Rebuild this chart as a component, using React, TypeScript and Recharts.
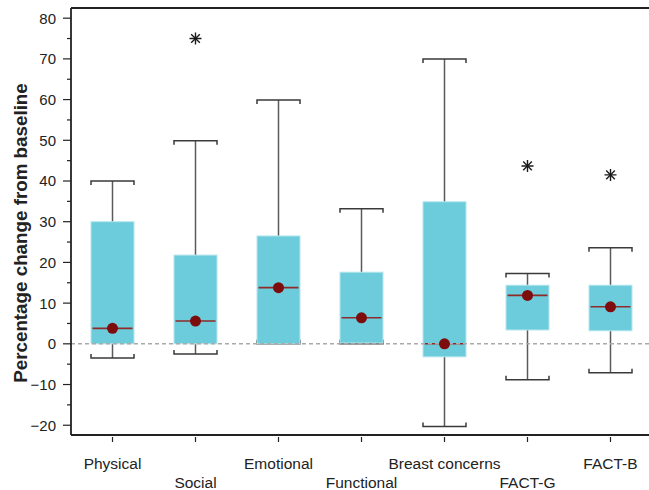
import React from "react"
import { ComposedChart, Bar, Scatter, XAxis, YAxis, ReferenceLine, Label } from "recharts"

const categories = ["Physical", "Social", "Emotional", "Functional", "Breast concerns", "FACT-G", "FACT-B"]
const whiskerLow = [-3.5, -2.5, 0, 0, -20.3, -8.8, -7.1]
const q1 = [0, 0, 0, 0.2, -3.2, 3.4, 3.2]
const median = [3.8, 5.6, 13.8, 6.4, 0, 11.9, 9.1]
const q3 = [30, 21.8, 26.5, 17.6, 34.9, 14.4, 14.4]
const whiskerHigh = [40, 49.9, 59.9, 33.2, 70, 17.3, 23.6]
const means = [3.8, 5.6, 13.8, 6.4, 0, 11.9, 9.1]
const outliers: (number | null)[] = [null, 75, null, null, null, 43.7, 41.5]

const yTicks = [-20, -15, -10, -5, 0, 5, 10, 15, 20, 25, 30, 35, 40, 45, 50, 55, 60, 65, 70, 75, 80]
const yDomain = [-22.4, 82.5]

const data = categories.map((name, i) => ({
  name,
  low: whiskerLow[i],
  q1: q1[i],
  median: median[i],
  q3: q3[i],
  high: whiskerHigh[i],
  mean: means[i],
  outlier: outliers[i],
}))

const FONT = "'Liberation Sans', Arial, sans-serif"
const BOX_FILL = "#6dccdb"

// whisker range drawn by the bar; box/median placed with the same linear scale
const BoxShape = (props: any) => {
  const { x, y, width, height, payload } = props
  const top = Math.min(y, y + height)
  const bottom = Math.max(y, y + height)
  const span = payload.high - payload.low
  const yOf = (v: number) => bottom - ((v - payload.low) / span) * (bottom - top)
  const cx = x + width / 2
  const x0 = x
  const x1 = x + width
  const yq1 = yOf(payload.q1)
  const yq3 = yOf(payload.q3)
  const ym = yOf(payload.median)
  return (
    <g>
      <line x1={cx} x2={cx} y1={top} y2={bottom} stroke="#5a5a5a" strokeWidth={1.5} />
      <path d={`M${x0},${top + 4}V${top}H${x1}V${top + 4}`} fill="none" stroke="#3a3a3a" strokeWidth={1.5} />
      <path d={`M${x0},${bottom - 4}V${bottom}H${x1}V${bottom - 4}`} fill="none" stroke="#3a3a3a" strokeWidth={1.5} />
      <rect x={x0} y={yq3} width={width} height={Math.max(yq1 - yq3, 1)} fill={BOX_FILL} stroke="#b5e6ee" strokeWidth={1} />
      <line x1={x0 + 1.5} x2={x1 - 1.5} y1={ym} y2={ym} stroke="#8e2a2a" strokeWidth={1.6} />
    </g>
  )
}

const MeanDot = (props: any) => {
  const { cx, cy } = props
  if (cx == null || cy == null || isNaN(cy)) return <g />
  return <circle cx={cx} cy={cy} r={5.5} fill="#7d0d0d" />
}

const Star = (props: any) => {
  const { cx, cy, payload } = props
  if (payload.outlier == null || cy == null || isNaN(cy)) return <g />
  const r = 6
  const d = r * 0.72
  return (
    <g stroke="#1a1a1a" strokeWidth={1.4}>
      <line x1={cx - r} x2={cx + r} y1={cy} y2={cy} />
      <line x1={cx} x2={cx} y1={cy - r} y2={cy + r} />
      <line x1={cx - d} x2={cx + d} y1={cy - d} y2={cy + d} />
      <line x1={cx - d} x2={cx + d} y1={cy + d} y2={cy - d} />
    </g>
  )
}

const YTick = (props: any) => {
  const { x, y, payload } = props
  const v = payload.value
  const major = v % 10 === 0
  return (
    <g>
      <line x1={x - (major ? 8 : 4)} x2={x} y1={y} y2={y} stroke="#222" strokeWidth={1.2} />
      {major && (
        <text x={x - 15} y={y} dy={5.5} textAnchor="end" fontSize={15} fill="#222" fontFamily={FONT}>
          {v < 0 ? `\u2212${Math.abs(v)}` : v}
        </text>
      )}
    </g>
  )
}

const XTick = (props: any) => {
  const { x, y, payload, index } = props
  return (
    <g>
      <line x1={x} x2={x} y1={y} y2={y + 5} stroke="#222" strokeWidth={1.2} />
      <text x={x} y={y} dy={index % 2 === 0 ? 32 : 50.5} textAnchor="middle" fontSize={15.5} fill="#222" fontFamily={FONT}>
        {payload.value}
      </text>
    </g>
  )
}

export default function App() {
  return (
    <div style={{ position: "absolute", left: 0, top: 0, width: 649, height: 490, overflow: "hidden", background: "#fff" }}>
      <ComposedChart width={660} height={490} data={data} margin={{ top: 8, right: 8, left: 0, bottom: 0 }}>
        <XAxis
          dataKey="name"
          height={55}
          tickLine={false}
          tickSize={0}
          tick={<XTick />}
          interval={0}
          axisLine={{ stroke: "#222", strokeWidth: 1.8 }}
        />
        <YAxis
          type="number"
          domain={yDomain}
          ticks={yTicks}
          allowDataOverflow
          width={71}
          tickLine={false}
          tickSize={0}
          tickMargin={0}
          interval={0}
          tick={<YTick />}
          axisLine={{ stroke: "#222", strokeWidth: 1.8 }}
        >
          <Label
            content={() => (
              <text
                transform="translate(22,233) rotate(-90)"
                textAnchor="middle"
                dominantBaseline="middle"
                fontSize={18.8}
                fontWeight="bold"
                fill="#222"
                fontFamily={FONT}
              >
                Percentage change from baseline
              </text>
            )}
          />
        </YAxis>
        <ReferenceLine y={yDomain[1]} stroke="#222" strokeWidth={1.8} />
        <ReferenceLine y={0} stroke="#aaaaaa" strokeWidth={1.5} strokeDasharray="4 3" />
        <Bar
          dataKey={(d: any) => [d.low, d.high]}
          barSize={43}
          shape={<BoxShape />}
          isAnimationActive={false}
        />
        <Scatter dataKey="mean" shape={<MeanDot />} isAnimationActive={false} />
        <Scatter dataKey="outlier" shape={<Star />} isAnimationActive={false} />
      </ComposedChart>
    </div>
  )
}
